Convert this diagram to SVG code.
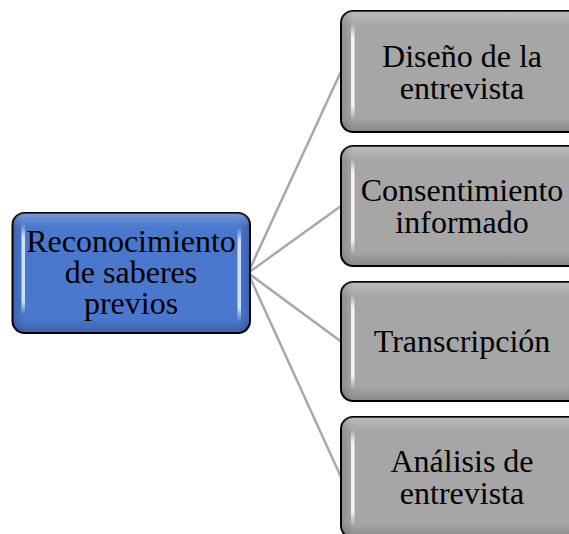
<svg xmlns="http://www.w3.org/2000/svg" width="569" height="534" viewBox="0 0 569 534">
<style>
.t{font-family:"Liberation Serif","Times New Roman",serif;font-size:32px;fill:#000;text-anchor:middle}
.box{stroke:#000;stroke-width:2}
.conn{stroke:#a8a8a8;stroke-width:2.5;fill:none}
</style>
<defs>
<linearGradient id="gGray" x1="0" y1="0" x2="1" y2="0">
<stop offset="0" stop-color="#8c8c8c"/>
<stop offset="0.05" stop-color="#a6a6a6"/>
<stop offset="0.95" stop-color="#a6a6a6"/>
<stop offset="1" stop-color="#8c8c8c"/>
</linearGradient>
<linearGradient id="gGrayV" x1="0" y1="0" x2="0" y2="1">
<stop offset="0" stop-color="#ffffff" stop-opacity="0.25"/>
<stop offset="0.12" stop-color="#ffffff" stop-opacity="0"/>
<stop offset="0.88" stop-color="#000000" stop-opacity="0"/>
<stop offset="1" stop-color="#000000" stop-opacity="0.18"/>
</linearGradient>
<linearGradient id="gBlue" x1="0" y1="0" x2="1" y2="0">
<stop offset="0" stop-color="#3a63b0"/>
<stop offset="0.05" stop-color="#4a78cc"/>
<stop offset="0.95" stop-color="#4a78cc"/>
<stop offset="1" stop-color="#3a63b0"/>
</linearGradient>
<linearGradient id="gHi" x1="0" y1="0" x2="0" y2="1">
<stop offset="0" stop-color="#ffffff" stop-opacity="0"/>
<stop offset="0.15" stop-color="#ffffff" stop-opacity="0.9"/>
<stop offset="0.85" stop-color="#ffffff" stop-opacity="0.9"/>
<stop offset="1" stop-color="#ffffff" stop-opacity="0"/>
</linearGradient>
<linearGradient id="gHiB" x1="0" y1="0" x2="0" y2="1">
<stop offset="0" stop-color="#cfe0ff" stop-opacity="0"/>
<stop offset="0.15" stop-color="#d8e6ff" stop-opacity="0.95"/>
<stop offset="0.85" stop-color="#d8e6ff" stop-opacity="0.95"/>
<stop offset="1" stop-color="#cfe0ff" stop-opacity="0"/>
</linearGradient>
</defs>
<g id="connectors">
<line class="conn" x1="248" y1="273" x2="341" y2="71.5"/>
<line class="conn" x1="248" y1="273" x2="341" y2="206"/>
<line class="conn" x1="248" y1="273" x2="341" y2="341.5"/>
<line class="conn" x1="248" y1="273" x2="341" y2="477"/>
</g>
<g id="node-root">
<rect class="box" x="12.5" y="213" width="237.5" height="120" rx="12" fill="url(#gBlue)"/>
<rect x="12.5" y="213" width="237.5" height="120" rx="12" fill="url(#gGrayV)"/>
<rect x="21.5" y="223" width="3.5" height="92" rx="1.7" fill="url(#gHiB)"/>
<rect x="237.5" y="227" width="3.5" height="95" rx="1.7" fill="url(#gHiB)"/>
<text class="t" x="131" y="252">Reconocimiento</text>
<text class="t" x="131" y="283">de saberes</text>
<text class="t" x="131" y="314">previos</text>
</g>
<g id="node-1">
<rect class="box" x="341" y="11" width="240" height="121" rx="12" fill="url(#gGray)"/>
<rect x="341" y="11" width="240" height="121" rx="12" fill="url(#gGrayV)"/>
<rect x="351" y="23" width="3.5" height="97" rx="1.7" fill="url(#gHi)"/>
<text class="t" x="462" y="66.5">Diseño de la</text>
<text class="t" x="462" y="98.5">entrevista</text>
</g>
<g id="node-2">
<rect class="box" x="341" y="146" width="240" height="120" rx="12" fill="url(#gGray)"/>
<rect x="341" y="146" width="240" height="120" rx="12" fill="url(#gGrayV)"/>
<rect x="351" y="158" width="3.5" height="96" rx="1.7" fill="url(#gHi)"/>
<text class="t" x="462" y="201">Consentimiento</text>
<text class="t" x="462" y="233">informado</text>
</g>
<g id="node-3">
<rect class="box" x="341" y="282" width="240" height="119" rx="12" fill="url(#gGray)"/>
<rect x="341" y="282" width="240" height="119" rx="12" fill="url(#gGrayV)"/>
<rect x="351" y="294" width="3.5" height="95" rx="1.7" fill="url(#gHi)"/>
<text class="t" x="462" y="352">Transcripción</text>
</g>
<g id="node-4">
<rect class="box" x="341" y="417" width="240" height="121" rx="12" fill="url(#gGray)"/>
<rect x="341" y="417" width="240" height="121" rx="12" fill="url(#gGrayV)"/>
<rect x="351" y="429" width="3.5" height="97" rx="1.7" fill="url(#gHi)"/>
<text class="t" x="462" y="472">Análisis de</text>
<text class="t" x="462" y="504">entrevista</text>
</g>
</svg>
